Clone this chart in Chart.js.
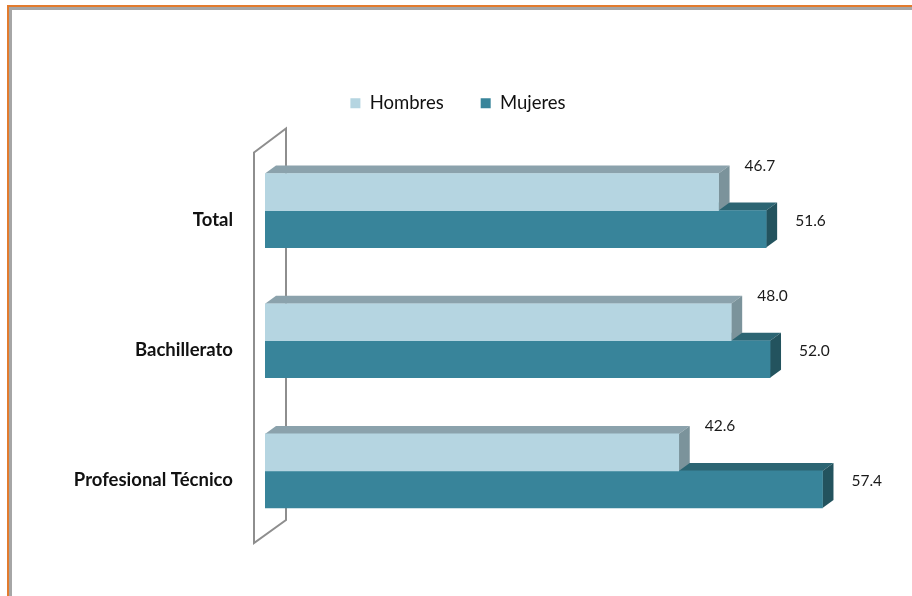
<!DOCTYPE html>
<html><head><meta charset="utf-8">
<script src="https://cdn.jsdelivr.net/npm/chart.js@4.4.0/dist/chart.umd.min.js"></script>
<style>
html,body{margin:0;padding:0;background:#fff;}
#wrap{position:relative;width:912px;height:596px;overflow:hidden;background:#fff;}
#frame{position:absolute;left:7px;top:5px;width:1000px;height:1000px;border-top:2px solid #E27B2E;border-left:2px solid #E27B2E;}
#frame2{position:absolute;left:9px;top:7px;width:1000px;height:1000px;border-top:3px solid #A6A6A6;border-left:3px solid #A6A6A6;}
canvas{position:absolute;left:0;top:0;}
</style></head><body>
<div id="wrap"><div id="frame"></div><div id="frame2"></div><canvas id="c" width="912" height="596"></canvas></div>
<script>
const categories = ['Total', 'Bachillerato', 'Profesional Técnico'];
const seriesNames = ['Hombres', 'Mujeres'];
const hombres = [46.7, 48.0, 42.6];
const mujeres = [51.6, 52.0, 57.4];

const frontColors = ['#B5D5E1', '#38849A'];
const topColors = ['#8BA2AC', '#2C6573'];
const sideColors = ['#7B939B', '#23535E'];
const DX = 11, DY = 8;

const legendGap = {
  id: 'legendGap',
  beforeUpdate(chart) {
    const lg = chart.legend;
    if (lg && !lg._gapPatched) {
      const orig = lg.fit;
      lg.fit = function () { orig.call(this); this.height += 23; };
      lg._gapPatched = true;
    }
  }
};

const bars3d = {
  id: 'bars3d',
  beforeDatasetsDraw(chart) {
    const ctx = chart.ctx;
    const a = chart.chartArea;
    ctx.save();
    ctx.strokeStyle = '#8E8E8E';
    ctx.lineWidth = 2;
    ctx.beginPath();
    ctx.moveTo(a.left - 11, a.top + 7);
    ctx.lineTo(a.left + 21, a.top - 17);
    ctx.lineTo(a.left + 21, a.bottom - 16);
    ctx.lineTo(a.left - 11, a.bottom + 7);
    ctx.closePath();
    ctx.stroke();
    for (let d = chart.data.datasets.length - 1; d >= 0; d--) {
      const meta = chart.getDatasetMeta(d);
      meta.data.forEach(el => {
        const p = el.getProps(['x', 'y', 'base', 'height'], true);
        const t = p.y - p.height / 2, b = p.y + p.height / 2;
        ctx.fillStyle = topColors[d];
        ctx.beginPath();
        ctx.moveTo(p.base, t);
        ctx.lineTo(p.base + DX, t - DY);
        ctx.lineTo(p.x + DX, t - DY);
        ctx.lineTo(p.x, t);
        ctx.closePath();
        ctx.fill();
        ctx.fillStyle = sideColors[d];
        ctx.beginPath();
        ctx.moveTo(p.x, t);
        ctx.lineTo(p.x + DX, t - DY);
        ctx.lineTo(p.x + DX, b - DY);
        ctx.lineTo(p.x, b);
        ctx.closePath();
        ctx.fill();
      });
    }
    ctx.restore();
  },
  afterDatasetsDraw(chart) {
    const ctx = chart.ctx;
    ctx.save();
    ctx.font = '15.5px Lato';
    ctx.fillStyle = '#1a1a1a';
    ctx.textAlign = 'left';
    ctx.textBaseline = 'middle';
    chart.data.datasets.forEach((ds, d) => {
      const meta = chart.getDatasetMeta(d);
      meta.data.forEach((el, i) => {
        const p = el.getProps(['x', 'y', 'height'], true);
        const txt = ds.data[i].toFixed(1);
        if (d === 0) ctx.fillText(txt, p.x + 26, p.y - p.height / 2 - 8);
        else ctx.fillText(txt, p.x + 29, p.y - 8);
      });
    });
    ctx.restore();
  }
};

new Chart(document.getElementById('c'), {
  type: 'bar',
  data: {
    labels: categories,
    datasets: [
      { label: seriesNames[0], data: hombres, backgroundColor: frontColors[0], borderWidth: 0, barThickness: 37 },
      { label: seriesNames[1], data: mujeres, backgroundColor: frontColors[1], borderWidth: 0, barThickness: 37 }
    ]
  },
  options: {
    indexAxis: 'y',
    responsive: false,
    devicePixelRatio: 1,
    animation: false,
    layout: { padding: { left: 10, right: 6, top: 57, bottom: 60 } },
    plugins: {
      legend: {
        position: 'top',
        labels: {
          boxWidth: 10, boxHeight: 10, padding: 37,
          font: { family: 'Lato', size: 18.5 }, color: '#111'
        }
      },
      tooltip: { enabled: false }
    },
    scales: {
      x: { display: false, min: 0, max: 66 },
      y: {
        afterFit(s) { s.width = 255; },
        grid: { display: false },
        border: { display: false },
        ticks: {
          padding: 24, labelOffset: 9, color: '#111',
          font: { family: 'Lato', size: 18.5, weight: 'bold' }
        }
      }
    }
  },
  plugins: [legendGap, bars3d]
});
</script>
</body></html>
